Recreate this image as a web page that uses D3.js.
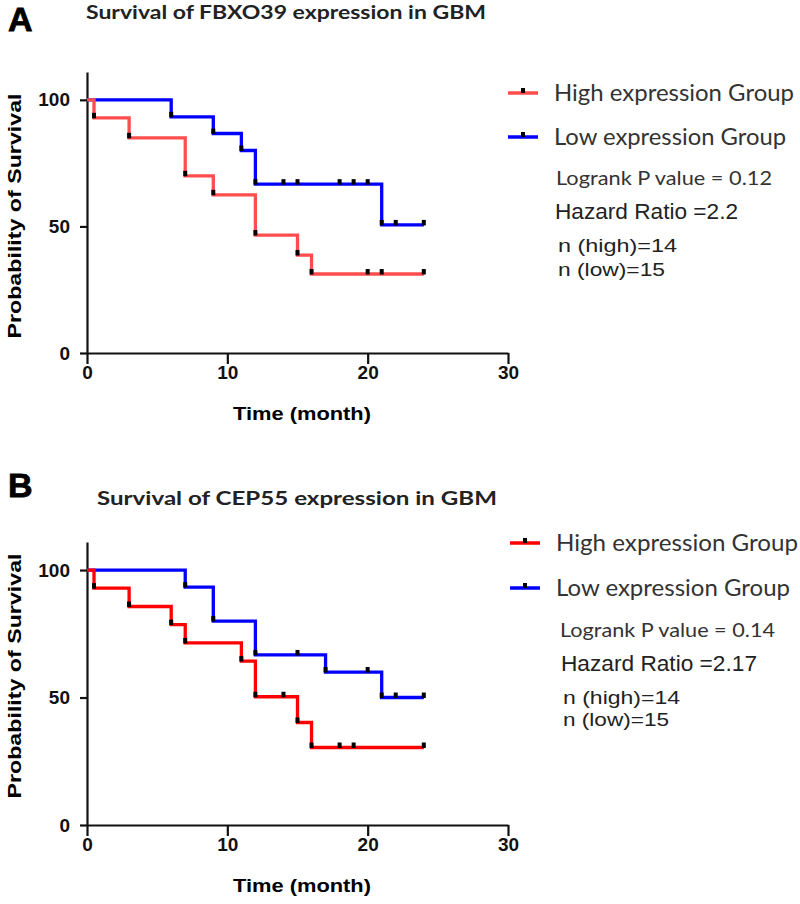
<!DOCTYPE html>
<html>
<head>
<meta charset="utf-8">
<script src="https://cdn.jsdelivr.net/npm/d3@7"></script>
<style>
body { margin: 0; background: #fff; }
svg text { font-family: "Liberation Sans", Arial, sans-serif; }
.calibri { font-family: Lato, "Open Sans", sans-serif; }
</style>
</head>
<body>
<svg id="chart" width="800" height="904"></svg>
<script>
// ---- data ----
var timeTicks = [0, 10, 20, 30];
var survTicks = [0, 50, 100];
var groupNames = ["High expression Group", "Low expression Group"];

// A : FBXO39  (time in months, survival in %)
var fbxoHighSteps = [[0, 100], [0.5, 92.9], [3, 85], [7, 70], [9, 62.5], [12, 46.6], [15, 38.7], [16, 31.2]];
var fbxoHighCensor = [20, 21, 24];
var fbxoLowSteps = [[0, 100], [6, 93.3], [9, 86.7], [11, 80], [12, 66.7], [21, 50.6]];
var fbxoLowCensor = [14, 15, 18, 19, 20, 22, 24];
var fbxoStats = ["Logrank P value = 0.12", "Hazard Ratio =2.2", "n (high)=14", "n (low)=15"];

// B : CEP55
var cepHighSteps = [[0, 100], [0.5, 92.9], [3, 85.7], [6, 78.6], [7, 71.4], [11, 64.3], [12, 50.3], [15, 40.2], [16, 30.4]];
var cepHighCensor = [14, 18, 19, 24];
var cepLowSteps = [[0, 100], [7, 93.3], [9, 80], [12, 66.7], [17, 60], [21, 50]];
var cepLowCensor = [15, 20, 22, 24];
var cepStats = ["Logrank P value = 0.14", "Hazard Ratio =2.17", "n (high)=14", "n (low)=15"];

var svg = d3.select("#chart");

// value of a step curve at time t
function survAt(steps, t) {
	var v = steps[0][1];
	steps.forEach(function(s) { if (s[0] <= t) v = s[1]; });
	return v;
}

function fitText(sel, w) {
	sel.attr("textLength", w).attr("lengthAdjust", "spacingAndGlyphs");
}

function drawPanel(p) {
	var g = svg.append("g").attr("class", "panel");
	var x = d3.scaleLinear().domain([0, 30]).range([87, 508]);
	var y = d3.scaleLinear().domain([0, 111]).range([p.yBottom, p.yTop]);

	// letter + title
	g.append("text")
	.attr("x", 8).attr("y", p.letterY)
	.style("font-size", "34px").style("font-weight", "900")
	.style("stroke", "#000").style("stroke-width", "0.8")
	.text(p.letter);
	g.append("text")
	.attr("class", "calibri")
	.attr("x", p.titleX).attr("y", p.titleY)
	.call(fitText, p.titleW)
	.style("font-size", "19px").style("font-weight", "700").style("fill", "#222")
	.text(p.title);

	// axes
	var xAxis = g.append("g")
	.attr("transform", "translate(0," + p.yBottom + ")")
	.call(d3.axisBottom(x).tickValues(timeTicks).tickSize(11).tickSizeOuter(0).tickPadding(2));
	var yAxis = g.append("g")
	.attr("transform", "translate(87,0)")
	.call(d3.axisLeft(y).tickValues(survTicks).tickSize(7).tickSizeOuter(0).tickPadding(10));
	[xAxis, yAxis].forEach(function(a) {
		a.selectAll("path, line").style("stroke", "#111").style("stroke-width", "2.2");
		a.selectAll("text").style("font-size", "19px").style("font-weight", "700")
		.style("fill", "#111").style("font-family", "'Liberation Sans', Arial, sans-serif");
	});

	g.append("text")
	.attr("x", 302).attr("y", p.yBottom + 67)
	.style("text-anchor", "middle").style("font-size", "19px").style("font-weight", "700")
	.call(fitText, 138)
	.text("Time (month)");
	g.append("text")
	.attr("transform", "translate(21," + p.yLabelMid + ") rotate(-90)")
	.style("text-anchor", "middle").style("font-size", "19px").style("font-weight", "700")
	.call(fitText, 245)
	.text("Probability of Survival");

	// curves: low first so the red one sits on top at t=0
	var line = d3.line().curve(d3.curveStepAfter)
	.x(function(d) { return x(d[0]); })
	.y(function(d) { return y(d[1]); });

	var series = [
		{ steps: p.low, censor: p.lowCensor, color: "#0000ff" },
		{ steps: p.high, censor: p.highCensor, color: p.red }
	];
	series.forEach(function(s) {
		var pts = s.steps.concat([[24, s.steps[s.steps.length - 1][1]]]);
		g.append("path")
		.attr("d", line(pts))
		.style("fill", "none")
		.style("stroke", s.color)
		.style("stroke-width", "3.3");
	});
	series.forEach(function(s) {
		var marks = s.steps.slice(1)
		.concat(s.censor.map(function(t) { return [t, survAt(s.steps, t)]; }));
		g.selectAll(null).data(marks).enter()
		.append("rect")
		.attr("x", function(d) { return x(d[0]) - 2; })
		.attr("y", function(d) { return y(d[1]) - 5; })
		.attr("width", 4)
		.attr("height", 5.5)
		.style("fill", "#000");
	});

	// legend
	var colors = [p.red, "#0000ff"];
	groupNames.forEach(function(name, i) {
		var ly = p.legendY[i];
		g.append("line")
		.attr("x1", p.legendX).attr("x2", p.legendX + 30)
		.attr("y1", ly).attr("y2", ly)
		.style("stroke", colors[i]).style("stroke-width", "3.5");
		g.append("rect")
		.attr("x", p.legendX + 13).attr("y", ly - 5)
		.attr("width", 4).attr("height", 5)
		.style("fill", "#000");
		g.append("text")
		.attr("class", "calibri")
		.attr("x", p.legendX + 46).attr("y", ly + 8)
		.call(fitText, p.legendW[i])
		.style("font-size", "23px").style("fill", "#333")
		.text(name);
	});

	// stats
	var sizes = ["20px", "21.5px", "19px", "19px"];
	p.stats.forEach(function(s, i) {
		g.append("text")
		.attr("class", i === 0 ? "calibri" : null)
		.attr("x", p.statX[i]).attr("y", p.statY[i])
		.call(fitText, p.statW[i])
		.style("font-size", sizes[i]).style("fill", i === 0 ? "#333" : "#222")
		.text(s);
	});
}

drawPanel({
	letter: "A", letterY: 31,
	title: "Survival of FBXO39 expression in GBM", titleX: 86, titleY: 19, titleW: 400,
	yBottom: 353, yTop: 72, yLabelMid: 216,
	high: fbxoHighSteps, highCensor: fbxoHighCensor,
	low: fbxoLowSteps, lowCensor: fbxoLowCensor,
	red: "#ff4d4d",
	legendX: 508, legendY: [93, 137], legendW: [240, 232],
	stats: fbxoStats,
	statX: [556, 555, 558, 558], statY: [185, 219, 252, 276], statW: [216, 183, 119, 107]
});

drawPanel({
	letter: "B", letterY: 497,
	title: "Survival of CEP55 expression in GBM", titleX: 97, titleY: 505, titleW: 400,
	yBottom: 825, yTop: 542, yLabelMid: 676,
	high: cepHighSteps, highCensor: cepHighCensor,
	low: cepLowSteps, lowCensor: cepLowCensor,
	red: "#ff0000",
	legendX: 510, legendY: [543, 588], legendW: [242, 234],
	stats: cepStats,
	statX: [560, 561, 563, 563], statY: [637, 671, 704, 726], statW: [215, 196, 117, 106]
});
</script>
</body>
</html>
